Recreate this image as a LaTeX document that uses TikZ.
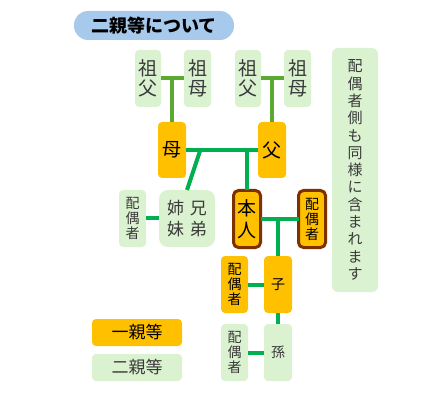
\documentclass[tikz,border=0pt]{standalone}
\usepackage{fontspec}
\newfontfamily\jp{Noto Sans CJK JP}
\definecolor{orng}{HTML}{FFC000}
\definecolor{lgreen}{HTML}{DAF2D0}
\definecolor{gline}{HTML}{00B050}
\definecolor{oline}{HTML}{5AAA32}
\definecolor{brown}{HTML}{7B3200}
\definecolor{ttl}{HTML}{A6C9EC}
\definecolor{gtext}{HTML}{3A3A3A}
\tikzset{
  base/.style={rectangle, inner sep=0pt, outer sep=0pt, align=center, font=\jp},
  one/.style={base, fill=orng, rounded corners=4pt, text=black},
  two/.style={base, fill=lgreen, rounded corners=4pt, text=gtext},
  self/.style={base, fill=orng, draw=brown, line width=3pt, rounded corners=5pt, text=black},
  gl/.style={draw=gline, line width=4pt},
  ol/.style={draw=oline, line width=4pt},
  bigc/.style={font=\jp\fontsize{19}{20}\selectfont},
  smc/.style={font=\jp\fontsize{14}{15}\selectfont},
}
\begin{document}
\begin{tikzpicture}[x=1pt,y=-1pt]
\useasboundingbox (0,0) rectangle (440,396);
% title
\node[base, fill=ttl, rounded corners=14pt, minimum width=160, minimum height=29,
  font=\jp\bfseries\fontsize{18}{20}\selectfont, text=black] (title) at (154,25.5) {二親等について};
% grandparents
\node[two, bigc, minimum width=26, minimum height=57] (gf1) at (148,78.5) {祖\\父};
\node[two, bigc, minimum width=27, minimum height=57] (gm1) at (197.5,78.5) {祖\\母};
\node[two, bigc, minimum width=26, minimum height=57] (gf2) at (248,78.5) {祖\\父};
\node[two, bigc, minimum width=27, minimum height=57] (gm2) at (297.5,78.5) {祖\\母};
% parents
\node[one, bigc, minimum width=28, minimum height=56] (mo) at (172,150) {母};
\node[one, bigc, minimum width=28, minimum height=56] (fa) at (272,150) {父};
% siblings row
\node[two, smc, minimum width=27, minimum height=57] (sps) at (132.5,218.5) {配\\偶\\者};
\node[two, font=\jp\fontsize{17}{21}\selectfont, rounded corners=9pt, minimum width=56, minimum height=57] (sib) at (187,218.5) {姉\hspace{6pt}兄\\妹\hspace{6pt}弟};
\node[self, font=\jp\fontsize{19}{22}\selectfont, minimum width=27, minimum height=57] (me) at (247,219) {本\\人};
\node[self, smc, minimum width=27, minimum height=57] (spme) at (312,219) {配\\偶\\者};
% children
\node[one, smc, minimum width=27, minimum height=57] (spc) at (234.5,284.5) {配\\偶\\者};
\node[one, smc, minimum width=28, minimum height=57] (ch) at (278,284.5) {子};
\node[two, smc, minimum width=27, minimum height=57] (spg) at (234.5,352.5) {配\\偶\\者};
\node[two, smc, minimum width=28, minimum height=57] (gc) at (278,352.5) {孫};
% legend
\node[one, font=\jp\fontsize{17}{20}\selectfont, minimum width=90, minimum height=27] (lg1) at (137,332.5) {一親等};
\node[two, font=\jp\fontsize{17}{20}\selectfont, minimum width=90, minimum height=27] (lg2) at (137,367.5) {二親等};
% note
\node[two, font=\jp\fontsize{15}{17.3}\selectfont, rounded corners=6pt, minimum width=46, minimum height=244] (note) at (355,170) {配\\偶\\者\\側\\も\\同\\様\\に\\含\\ま\\れ\\ま\\す};
% connectors
\draw[ol] (gf1.east) -- (gm1.west);
\draw[ol] (mo.north) -- (mo.north |- gf1.east);
\draw[ol] (gf2.east) -- (gm2.west);
\draw[ol] (fa.north) -- (fa.north |- gf2.east);
\draw[gl] (mo.east) -- (fa.west);
\coordinate (j1) at (200,151);
\draw[gl] (j1) -- (sib.north);
\draw[gl] (me.north |- mo.east) -- (me.north);
\draw[gl] (sps.east) -- (sib.west);
\draw[gl] (me.east) -- (spme.west);
\draw[gl] (ch.north |- me.east) -- (ch.north);
\draw[gl] (spc.east) -- (ch.west);
\draw[gl] (ch.south) -- (gc.north);
\draw[gl] (spg.east) -- (gc.west);
\end{tikzpicture}
\end{document}
